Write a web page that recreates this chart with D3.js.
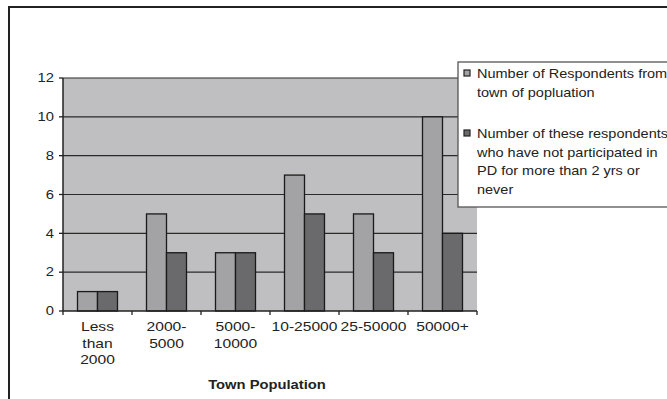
<!DOCTYPE html>
<html><head><meta charset="utf-8">
<script src="https://cdn.jsdelivr.net/npm/d3@7"></script>
<style>body{margin:0;background:#fff}svg{display:block}text{font-family:Arial,"Liberation Sans",sans-serif}</style>
</head><body><div id="c"></div>
<script>
const categories = [["Less","than","2000"],["2000-","5000"],["5000-","10000"],["10-25000"],["25-50000"],["50000+"]];
const seriesNames = [["Number of Respondents from","town of popluation"],["Number of these respondents","who have not participated in","PD for more than 2 yrs or","never"]];
const respondents = [1,5,3,7,5,10];
const notParticipated = [1,3,3,5,3,4];
const yTicks = [0,2,4,6,8,10,12];
const xTitle = "Town Population";
const colors = ["#a3a3a5","#6a6a6c"];

const W=667,H=399;
const svg=d3.select("#c").append("svg").attr("width",W).attr("height",H);
svg.append("rect").attr("x",0).attr("y",0).attr("width",W).attr("height",H).attr("fill","#fff");
svg.append("path").attr("d",`M9,${H} L9,7 L${W},7`).attr("fill","none").attr("stroke","#222").attr("stroke-width",2);

// stretched text helper
function stext(g,x0,y0,str,opts){
  const t=g.append("text").attr("transform",`translate(${x0},${y0}) scale(${opts.sx||1.23},1)`)
   .attr("font-size",opts.fs||12).attr("fill","#222").attr("text-anchor",opts.anchor||"start")
   .attr("dy",opts.dy||0).text(str);
  if(opts.bold) t.attr("font-weight","bold");
  return t;
}

const L=63,R=477,T=78,B=311;
const x=d3.scaleBand().domain(d3.range(categories.length)).range([L,R]);
const y=d3.scaleLinear().domain([0,12]).range([B,T]);
svg.append("rect").attr("x",L).attr("y",T).attr("width",R-L).attr("height",B-T).attr("fill","#bfbfc1");
svg.append("g").selectAll("line").data(yTicks.filter(d=>d>0)).join("line")
 .attr("x1",L).attr("x2",R).attr("y1",d=>y(d)).attr("y2",d=>y(d)).attr("stroke","#2a2a2a").attr("stroke-width",1.2);
const bw=20;
[respondents,notParticipated].forEach((vals,si)=>{
 svg.append("g").selectAll("rect").data(vals).join("rect")
  .attr("x",(d,i)=>x(i)+x.bandwidth()/2-bw+si*bw)
  .attr("y",d=>y(d)).attr("width",bw).attr("height",d=>y(0)-y(d))
  .attr("fill",colors[si]).attr("stroke","#1a1a1a").attr("stroke-width",1.3);
});
// y axis
const ya=svg.append("g");
ya.append("line").attr("x1",L).attr("x2",L).attr("y1",T).attr("y2",B).attr("stroke","#222").attr("stroke-width",1.5);
yTicks.forEach(v=>{
  ya.append("line").attr("x1",L-4).attr("x2",L).attr("y1",y(v)).attr("y2",y(v)).attr("stroke","#222").attr("stroke-width",1.3);
  stext(ya,L-9,y(v),String(v),{anchor:"end",dy:"0.35em",sx:1.23});
});
// x axis
const xa=svg.append("g");
xa.append("line").attr("x1",L).attr("x2",R).attr("y1",B).attr("y2",B).attr("stroke","#222").attr("stroke-width",1.5);
d3.range(categories.length+1).forEach(i=>{
  const xx=L+i*x.bandwidth();
  xa.append("line").attr("x1",xx).attr("x2",xx).attr("y1",B).attr("y2",B+4).attr("stroke","#222").attr("stroke-width",1.3);
});
categories.forEach((lines,i)=>{
  lines.forEach((s,k)=>stext(xa,x(i)+x.bandwidth()/2,B+20+k*16.5,s,{anchor:"middle",sx:1.3}));
});
stext(svg,(L+R)/2-3,389,xTitle,{anchor:"middle",bold:true,sx:1.23});
// legend
const lg=svg.append("g");
lg.append("rect").attr("x",458).attr("y",62).attr("width",230).attr("height",145).attr("fill","#fff").attr("stroke","#555").attr("stroke-width",1.3);
const starts=[78,138];
seriesNames.forEach((lines,si)=>{
 lg.append("rect").attr("x",464).attr("y",starts[si]-8).attr("width",6).attr("height",6).attr("fill",colors[si]).attr("stroke","#222").attr("stroke-width",1.2);
 lines.forEach((s,k)=>stext(lg,477,starts[si]+k*18.5,s,{sx:1.21}));
});
</script></body></html>
